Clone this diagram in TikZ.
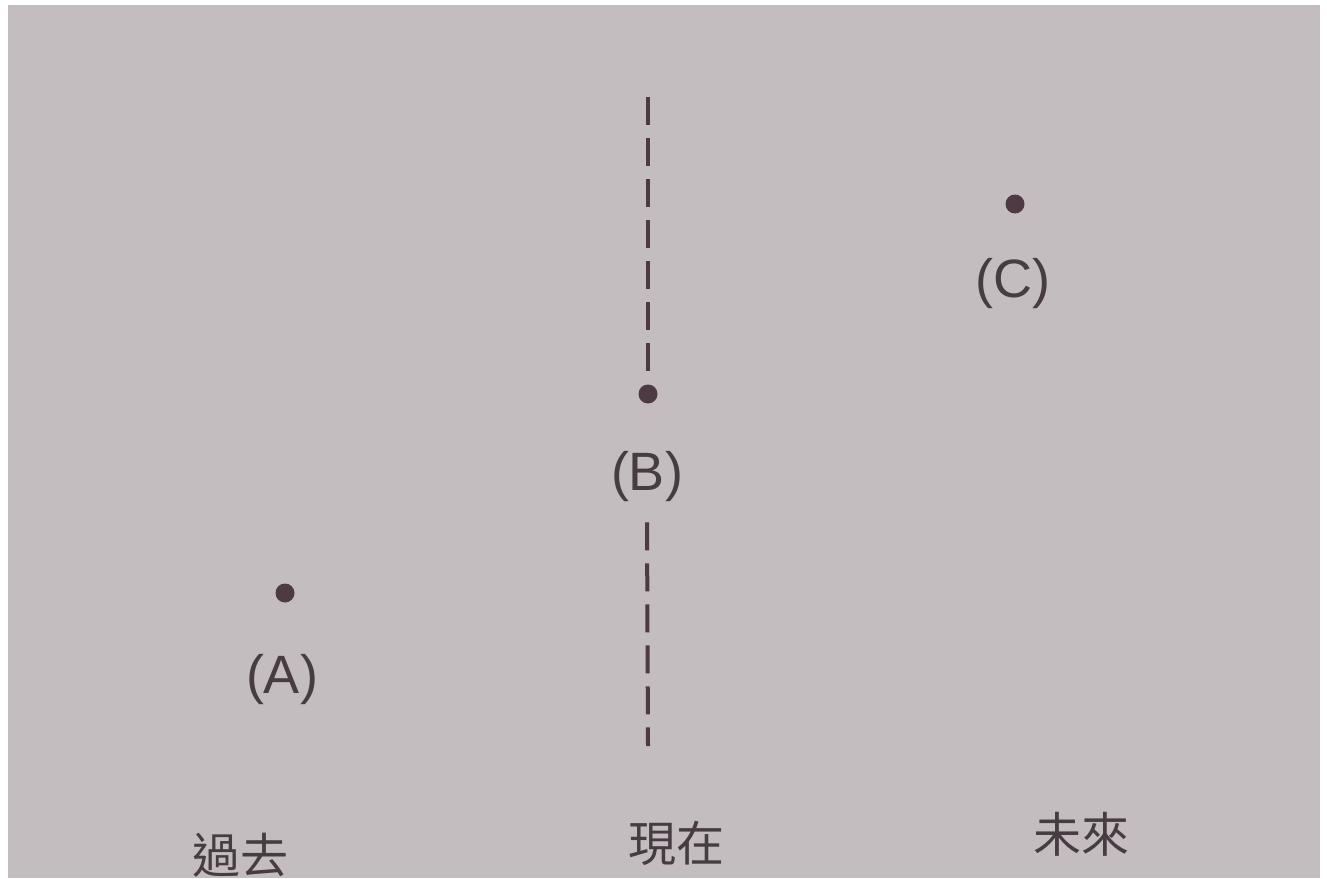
\documentclass[tikz,border=0pt]{standalone}
\usepackage{fontspec}
\setmainfont{Liberation Sans}
\newfontfamily\cjkfont{Noto Sans CJK TC}
\definecolor{paper}{RGB}{196,189,191}
\definecolor{ink}{RGB}{78,58,66}
\definecolor{txt}{RGB}{70,60,66}
\begin{document}
\begin{tikzpicture}[x=1pt,y=-1pt,
  dotmark/.style={circle,fill=ink,inner sep=0pt,minimum size=19pt},
  lbl/.style={text=txt,font=\fontsize{54}{58}\selectfont,inner sep=0pt},
  era/.style={text=txt,font=\cjkfont\fontsize{48}{52}\selectfont,inner sep=0pt},
  dashline/.style={draw=ink,line width=4pt,dash pattern=on 28pt off 13pt}]
\useasboundingbox (0,0) rectangle (1327,878);
\fill[white] (0,0) rectangle (1327,878);
\fill[paper] (8,5) rectangle (1320,878);
\node[dotmark] (dA) at (285,593) {};
\node[dotmark] (dB) at (648,394) {};
\node[dotmark] (dC) at (1015,204) {};
\node[lbl] (lA) at (282,680) {(A)};
\node[lbl] (lB) at (647,477) {(B)};
\node[lbl] (lC) at (1013,284) {(C)};
\coordinate (top) at (648,97);
\coordinate (bot) at (648,746);
\draw[dashline,shorten >=6pt] (top) -- (dB.north);
\draw[dashline] ([yshift=-20pt]lB.south) -- (bot);
\node[era] (past) at (240,855) {過去};
\node[era] (now) at (676,843) {現在};
\node[era] (fut) at (1081,834) {未來};
\end{tikzpicture}
\end{document}
